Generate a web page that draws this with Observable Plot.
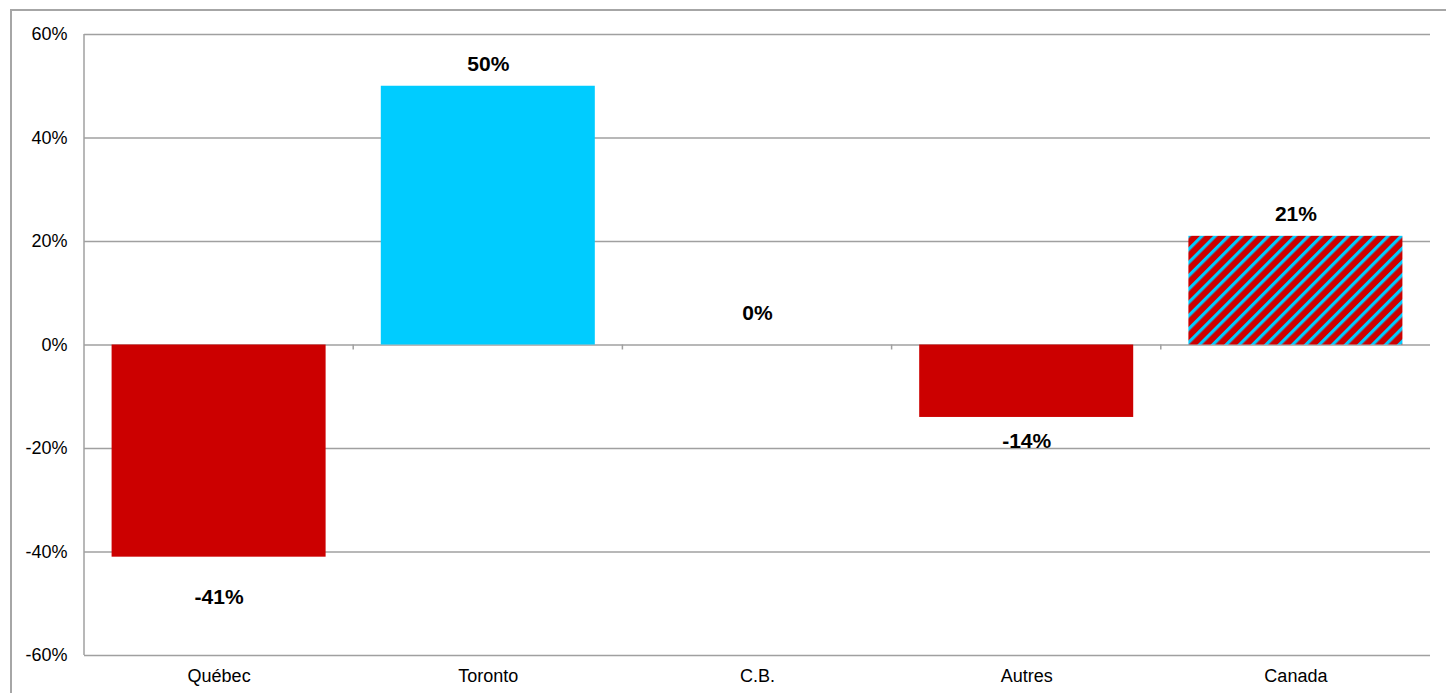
<!DOCTYPE html>
<html>
<head>
<meta charset="utf-8">
<script src="https://cdn.jsdelivr.net/npm/d3@7"></script>
<script src="https://cdn.jsdelivr.net/npm/@observablehq/plot@0.6"></script>
<style>
  html, body { margin: 0; padding: 0; background: #fff; overflow: hidden; }
  #wrap { position: relative; width: 1446px; height: 693px; }
  #border { position: absolute; left: 10px; top: 9px; width: 2000px; height: 2000px; border: 2px solid #a6a6a6; box-sizing: border-box; }
  #chart { position: absolute; left: 0; top: 0; }
  svg text { font-family: "Liberation Sans", Arial, sans-serif; }
</style>
</head>
<body>
<div id="wrap"><div id="border"></div><div id="chart"></div></div>
<script>
const categories = ["Québec", "Toronto", "C.B.", "Autres", "Canada"];
const values = [-0.41, 0.50, 0.00, -0.14, 0.21];
const yTicks = [-0.6, -0.4, -0.2, 0, 0.2, 0.4, 0.6];

const RED = "#cc0000", CYAN = "#00ccff", GRID = "#a0a0a0";
const fills = {"Québec": RED, "Toronto": CYAN, "C.B.": RED, "Autres": RED, "Canada": "url(#hatch)"};
const data = categories.map((c, i) => ({cat: c, value: values[i]}));
const fmt = v => `${Math.round(v * 100)}%`;

// label offset rule (Excel-like placement)
function labelDy(d) {
  if (d.value > 0) return -22;
  if (d.value === 0) return -32;
  return d.value < -0.3 ? 40 : 24;
}
const labelMarks = [...new Set(data.map(labelDy))].map(dy =>
  Plot.text(data.filter(d => labelDy(d) === dy), {
    x: "cat", y: "value", text: d => fmt(d.value), dy,
    lineAnchor: "middle", fontSize: 21, fontWeight: "bold", fill: "#000"
  })
);

const plot = Plot.plot({
  width: 1446, height: 693,
  marginLeft: 84, marginRight: 16, marginTop: 34, marginBottom: 38,
  style: {background: "transparent", fontFamily: "Liberation Sans, Arial, sans-serif", fontSize: "18px", color: "#000"},
  x: {domain: categories, paddingInner: 0.205, paddingOuter: 0.1025, round: false, label: null, tickSize: 0, tickPadding: 14},
  y: {domain: [-0.6, 0.6], ticks: yTicks, tickFormat: fmt, label: null, tickSize: 0, tickPadding: 17},
  marks: [
    Plot.ruleY(yTicks, {stroke: GRID, strokeWidth: 1.5}),
    Plot.barY(data, {x: "cat", y: "value", fill: d => fills[d.cat]}),
    ...labelMarks
  ]
});
document.getElementById("chart").appendChild(plot);

const svg = d3.select(plot);
const defs = svg.insert("defs", ":first-child");
const pat = defs.append("pattern").attr("id", "hatch").attr("patternUnits", "userSpaceOnUse")
  .attr("width", 9.4).attr("height", 9.4).attr("patternTransform", "rotate(45)");
pat.append("rect").attr("width", 9.4).attr("height", 9.4).attr("fill", RED);
pat.append("rect").attr("width", 3.2).attr("height", 9.4).attr("fill", CYAN);

// y axis line and category boundary ticks from Plot's scales
const xs = plot.scale("x"), ys = plot.scale("y");
const left = d3.min(xs.range), right = d3.max(xs.range);
const yTop = d3.min(ys.range), yBot = d3.max(ys.range);
const yZero = ys.range[0] + (0 - ys.domain[0]) / (ys.domain[1] - ys.domain[0]) * (ys.range[1] - ys.range[0]);
const g = svg.append("g").attr("stroke", GRID).attr("stroke-width", 1.5);
g.append("line").attr("x1", left).attr("x2", left).attr("y1", yTop).attr("y2", yBot);
const nb = categories.length;
const stepPx = (right - left) / nb;
for (let i = 1; i < nb; i++) {
  const bx = left + i * stepPx;
  g.append("line").attr("x1", bx).attr("x2", bx).attr("y1", yZero).attr("y2", yZero + 5);
}
</script>
</body>
</html>
